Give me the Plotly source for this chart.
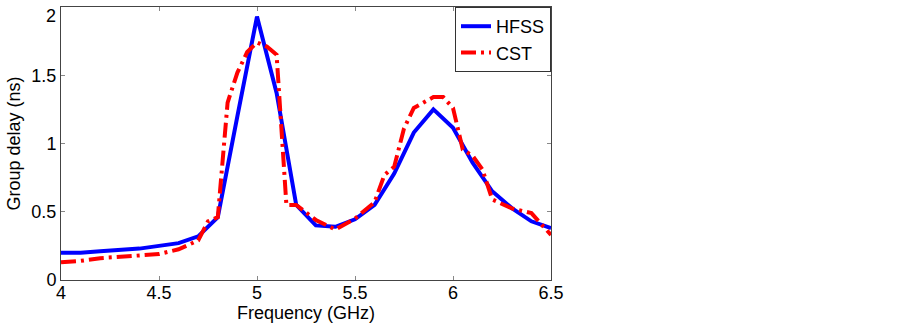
import plotly.graph_objects as go

freq_hfss = [4.0, 4.1, 4.2, 4.3, 4.4, 4.5, 4.6, 4.7, 4.8, 4.9, 5.0, 5.1, 5.2, 5.3, 5.4, 5.5,
             5.6, 5.7, 5.8, 5.9, 6.0, 6.1, 6.2, 6.3, 6.4, 6.5]
delay_hfss = [0.20, 0.20, 0.21, 0.22, 0.23, 0.25, 0.27, 0.32, 0.46, 1.20, 1.93, 1.37, 0.55, 0.40,
              0.39, 0.445, 0.55, 0.78, 1.08, 1.25, 1.115, 0.86, 0.65, 0.527, 0.43, 0.38]

freq_cst = [4.0, 4.1, 4.2, 4.3, 4.4, 4.5, 4.6, 4.7, 4.75, 4.8, 4.85, 4.9, 4.95, 5.0, 5.05, 5.1,
            5.15, 5.2, 5.3, 5.4, 5.5, 5.6, 5.65, 5.7, 5.75, 5.8, 5.85, 5.9, 5.95, 6.0, 6.05,
            6.1, 6.15, 6.2, 6.3, 6.4, 6.5]
delay_cst = [0.13, 0.14, 0.16, 0.17, 0.18, 0.19, 0.225, 0.29, 0.43, 0.46, 1.30, 1.52, 1.67, 1.74,
             1.71, 1.65, 0.55, 0.55, 0.44, 0.37, 0.45, 0.57, 0.77, 0.83, 1.11, 1.26, 1.30, 1.34,
             1.34, 1.26, 0.955, 0.91, 0.81, 0.59, 0.525, 0.49, 0.33]

x_ticks = [4, 4.5, 5, 5.5, 6, 6.5]
y_ticks = [0, 0.5, 1, 1.5, 2]
y_tick_labels = ["0", "0.5", "1", "1.5", "2"]

font = "Liberation Sans, Arial, sans-serif"
fs = 18

fig = go.Figure()
fig.add_trace(go.Scatter(x=freq_hfss, y=delay_hfss, mode="lines", name="HFSS",
                         line=dict(color="#0000ff", width=4)))
fig.add_trace(go.Scatter(x=freq_cst, y=delay_cst, mode="lines", name="CST",
                         line=dict(color="#ff0000", width=4, dash="15px,5px,3px,5px")))

axis_common = dict(showline=True, linecolor="#444444", linewidth=1, mirror="ticks",
                   ticks="inside", ticklen=4, tickcolor="#888888", showgrid=False,
                   zeroline=False, automargin=False, ticklabeloverflow="allow",
                   tickfont=dict(family=font, size=fs, color="black"))

# top tick label drawn as annotation so it stays inside the figure (as in the reference)
shown_y_text = y_tick_labels[:-1] + [""]

fig.update_layout(
    width=903, height=328,
    margin=dict(l=61, r=352, t=7, b=48),
    paper_bgcolor="white", plot_bgcolor="white",
    font=dict(family=font, size=fs, color="black"),
    xaxis=dict(range=[4, 6.5], tickvals=x_ticks, ticktext=[str(t) for t in x_ticks],
               ticklabelstandoff=-4,
               title=dict(text="Frequency (GHz)", font=dict(family=font, size=fs), standoff=0),
               **axis_common),
    yaxis=dict(range=[0, 2], tickvals=y_ticks, ticktext=shown_y_text,
               title=dict(text="Group delay (ns)", font=dict(family=font, size=fs), standoff=6),
               **axis_common),
    legend=dict(x=1, y=1, xanchor="right", yanchor="top", bgcolor="white",
                bordercolor="#333333", borderwidth=1,
                font=dict(family=font, size=fs), tracegroupgap=0,
                itemwidth=30),
    showlegend=True,
)
fig.add_annotation(xref="paper", yref="y", x=0, y=y_ticks[-1], text=y_tick_labels[-1],
                   showarrow=False, xanchor="right", yanchor="top", xshift=-3, yshift=3,
                   font=dict(family=font, size=fs, color="black"))

fig.write_html("out.html", config={"displayModeBar": False},
               post_script="document.body.style.margin='0';document.body.style.overflow='hidden';")
